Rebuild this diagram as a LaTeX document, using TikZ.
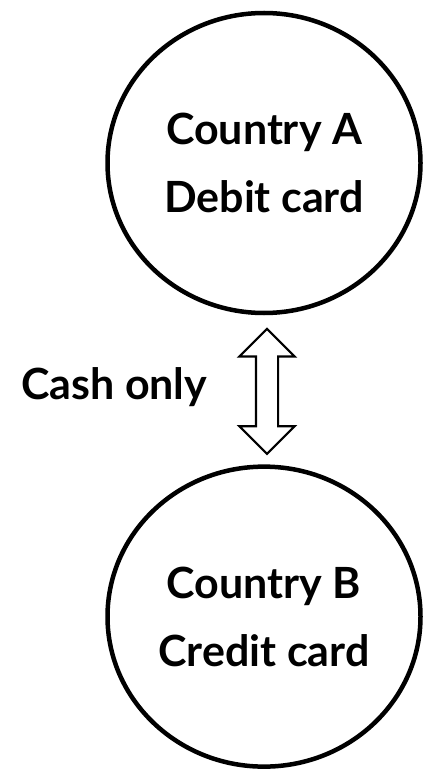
\documentclass[tikz,border=0pt]{standalone}
\usepackage{fontspec}
\setmainfont{Lato}
\usetikzlibrary{positioning,shapes.geometric,shapes.arrows}

\begin{document}
\begin{tikzpicture}[node distance=12pt, every node/.style={font=\bfseries\fontsize{43}{68}\selectfont},
  country/.style={draw, ellipse, line width=4.5pt, minimum width=313pt, minimum height=300pt, align=center}]
\useasboundingbox (0,0) rectangle (423pt,-770pt);
\node[country] (ca) at (264pt,-163pt) {Country A\\ Debit card};
\node[draw, double arrow, shape border rotate=90, line width=2.2pt, minimum height=125pt, double arrow head extend=16.5pt, inner sep=10pt, below=12pt of ca, xshift=3pt] (flow) {};
\node[left=44pt of flow, yshift=4pt] (cash) {Cash only};
\node[country, below=9pt of flow, xshift=-3pt] (cb) {Country B\\ Credit card};
\end{tikzpicture}
\end{document}
